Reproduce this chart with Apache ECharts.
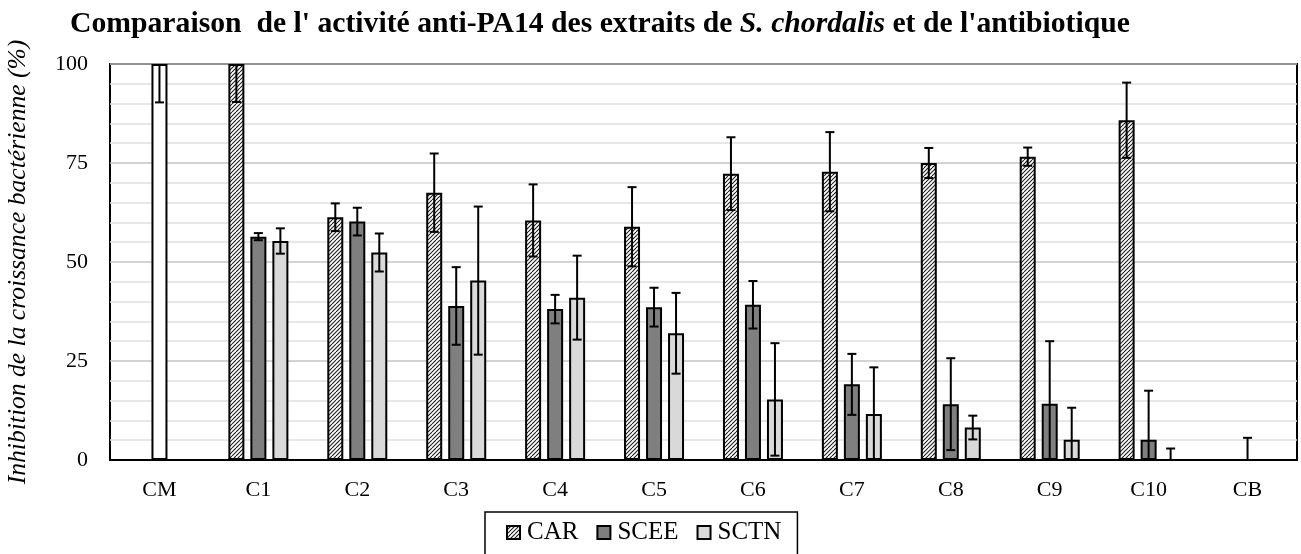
<!DOCTYPE html>
<html>
<head>
<meta charset="utf-8">
<script src="https://cdn.jsdelivr.net/npm/echarts@6/dist/echarts.min.js"></script>
<style>
  html, body { margin: 0; padding: 0; background: #fff; }
  #chart { width: 1301px; height: 554px; }
</style>
</head>
<body>
<div id="chart"></div>
<script>
// Categories (concentrations + controls)
const categories = ['CM', 'C1', 'C2', 'C3', 'C4', 'C5', 'C6', 'C7', 'C8', 'C9', 'C10', 'CB'];

// Mean inhibition (%) and standard deviations per extract
const carValues  = [null, 100, 61.3, 67.5, 60.5, 58.9, 72.3, 72.8, 75.0, 76.6, 85.8, null];
const carErrors  = [null, 9.6, 3.5, 9.9, 9.1, 10.0, 9.2, 10.0, 3.8, 2.3, 9.5, null];
const sceeValues = [100, 56.4, 60.2, 38.9, 38.1, 38.6, 39.2, 19.1, 14.1, 14.2, 5.1, 0];
const sceeErrors = [9.7, 0.9, 3.5, 9.8, 3.6, 4.9, 6.0, 7.7, 11.6, 15.8, 12.4, 5.6];
const sctnValues = [null, 55.3, 52.4, 45.3, 41.0, 32.0, 15.3, 11.6, 8.2, 5.1, 0, null];
const sctnErrors = [null, 3.2, 4.8, 18.7, 10.6, 10.2, 14.2, 11.8, 3.0, 8.1, 2.9, null];

const yTicks = [0, 25, 50, 75, 100];

const SERIF = '"Liberation Serif", "Times New Roman", serif';

// Upward diagonal hatch fill
function makeHatch() {
  const c = document.createElement('canvas');
  c.width = 8; c.height = 8;
  const g = c.getContext('2d');
  g.fillStyle = '#ffffff';
  g.fillRect(0, 0, 8, 8);
  g.strokeStyle = '#222222';
  g.lineWidth = 1.1;
  g.beginPath();
  for (let k = -8; k <= 16; k += 4) {
    g.moveTo(k, 8);
    g.lineTo(k + 8, 0);
  }
  g.stroke();
  return c;
}
const hatch = { image: makeHatch(), repeat: 'repeat' };

const BAR_W = 16;
const STEP = 22; // distance between bar centres in a group

function errorSeries(values, errors, shift) {
  const data = [];
  values.forEach((v, i) => {
    if (v !== null && errors[i]) data.push([i, v, errors[i]]);
  });
  return {
    type: 'custom',
    z: 5,
    silent: true,
    data: data,
    encode: { x: 0, y: 1 },
    renderItem: function (params, api) {
      const i = api.value(0), v = api.value(1), e = api.value(2);
      const lo = Math.max(0, v - e), hi = Math.min(100, v + e);
      const pLo = api.coord([i, lo]);
      const pHi = api.coord([i, hi]);
      const x = pLo[0] + shift * STEP;
      const style = { stroke: '#000', lineWidth: 2 };
      const children = [{
        type: 'line',
        shape: { x1: x, y1: pLo[1], x2: x, y2: pHi[1] },
        style: style
      }];
      const half = 4.5;
      if (v - e >= 0) children.push({ type: 'line', shape: { x1: x - half, y1: pLo[1], x2: x + half, y2: pLo[1] }, style: style });
      if (v + e <= 100) children.push({ type: 'line', shape: { x1: x - half, y1: pHi[1], x2: x + half, y2: pHi[1] }, style: style });
      return { type: 'group', children: children };
    }
  };
}

const chart = echarts.init(document.getElementById('chart'), null, { renderer: 'canvas' });

const sceeData = sceeValues.map((v, i) => i === 0 ? { value: v, itemStyle: { color: '#ffffff' } } : v);

chart.setOption({
  animation: false,
  backgroundColor: '#ffffff',
  title: {
    text: "Comparaison  de l' activité anti-PA14 des extraits de {i|S. chordalis} et de l'antibiotique",
    left: 65,
    top: 4,
    textStyle: {
      fontFamily: SERIF,
      fontWeight: 'bold',
      fontSize: 29.7,
      color: '#000',
      rich: {
        i: { fontFamily: SERIF, fontWeight: 'bold', fontStyle: 'italic', fontSize: 29.7, color: '#000' }
      }
    }
  },
  legend: {
    data: ['CAR', 'SCEE', 'SCTN'],
    left: 485,
    top: 512,
    padding: [8, 16, 14, 21],
    itemGap: 18,
    itemWidth: 13,
    itemHeight: 13,
    icon: 'rect',
    borderColor: '#000',
    borderWidth: 1.5,
    textStyle: { fontFamily: SERIF, fontSize: 25, color: '#000', padding: [0, 0, 0, 2] }
  },
  grid: {
    left: 110,
    right: 4,
    top: 64,
    bottom: 94,
    outerBoundsMode: 'none',
    containLabel: false,
    show: true,
    borderColor: '#000',
    borderWidth: 2,
    backgroundColor: 'transparent'
  },
  xAxis: {
    type: 'category',
    data: categories,
    axisLine: { show: true, lineStyle: { color: '#000', width: 2 } },
    axisTick: { show: false },
    axisLabel: { fontFamily: SERIF, fontSize: 22, color: '#000', margin: 19 },
    splitLine: { show: false }
  },
  yAxis: {
    type: 'value',
    min: 0,
    max: 100,
    interval: 25,
    name: 'Inhibition de la croissance bactérienne (%)',
    nameLocation: 'middle',
    nameRotate: 90,
    nameGap: 79,
    nameTextStyle: { fontFamily: SERIF, fontStyle: 'italic', fontSize: 25.6, color: '#000' },
    axisLine: { show: false },
    axisTick: { show: false },
    axisLabel: {
      fontFamily: SERIF, fontSize: 22, color: '#000', margin: 22,
      formatter: v => (yTicks.indexOf(v) >= 0 ? String(v) : '')
    },
    splitLine: { show: true, lineStyle: { color: '#c4c4c4', width: 1.5 } },
    minorTick: { show: false, splitNumber: 5 },
    minorSplitLine: { show: true, lineStyle: { color: '#e0e0e0', width: 1.5 } }
  },
  series: [
    {
      name: 'CAR', type: 'bar', data: carValues,
      barWidth: BAR_W, barGap: '37.5%',
      itemStyle: { color: hatch, borderColor: '#000', borderWidth: 2 }
    },
    {
      name: 'SCEE', type: 'bar', data: sceeData,
      barWidth: BAR_W, barGap: '37.5%',
      itemStyle: { color: '#7f7f7f', borderColor: '#000', borderWidth: 2 }
    },
    {
      name: 'SCTN', type: 'bar', data: sctnValues,
      barWidth: BAR_W, barGap: '37.5%',
      itemStyle: { color: '#d9d9d9', borderColor: '#000', borderWidth: 2 }
    },
    errorSeries(carValues, carErrors, -1),
    errorSeries(sceeValues, sceeErrors, 0),
    errorSeries(sctnValues, sctnErrors, 1)
  ]
});
</script>
</body>
</html>
